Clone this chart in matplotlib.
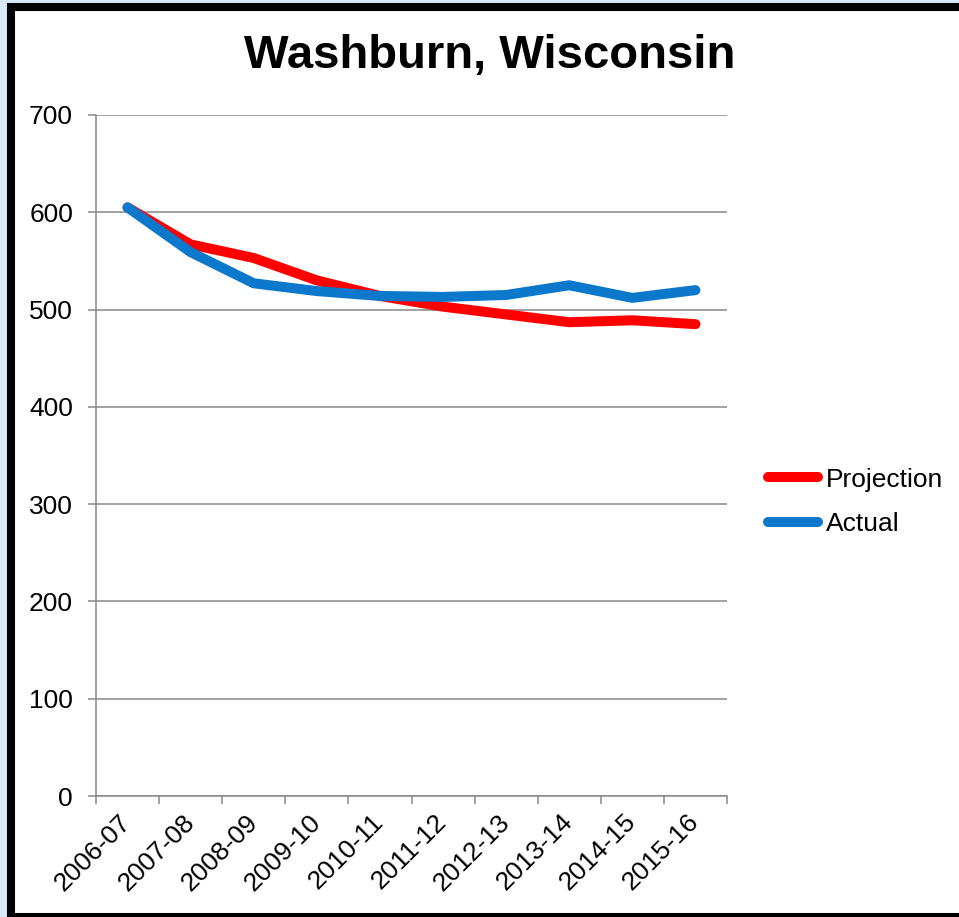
import matplotlib
matplotlib.use('Agg')
import matplotlib.pyplot as plt
from matplotlib.patches import Rectangle
import numpy as np

plt.rcParams['font.family'] = ['Liberation Sans', 'DejaVu Sans']

# data
years = ['2006-07', '2007-08', '2008-09', '2009-10', '2010-11',
         '2011-12', '2012-13', '2013-14', '2014-15', '2015-16']
projection = [605, 567, 553, 530, 514, 503, 495, 487, 489, 485]
actual = [605, 559, 527, 519, 514, 513, 515, 525, 512, 520]

W, H = 959, 917
fig = plt.figure(figsize=(W / 100, H / 100), dpi=100)
fig.patch.set_facecolor('#d8eaf9')

# white panel with thick black frame
frame = Rectangle((11 / W, 0.0), 1.2, 910 / H, transform=fig.transFigure,
                  facecolor='white', edgecolor='black', linewidth=5.8,
                  zorder=-10)
fig.patches.append(frame)

ax = fig.add_axes([96 / W, (H - 796) / H, (727 - 96) / W, (796 - 115) / H])
ax.set_facecolor('none')

x = np.arange(len(years))
ax.plot(x, projection, color='#ff0000', lw=7.2, solid_capstyle='round',
        solid_joinstyle='round', label='Projection', zorder=3)
ax.plot(x, actual, color='#0b78cc', lw=7.2, solid_capstyle='round',
        solid_joinstyle='round', label='Actual', zorder=4)

ax.set_xlim(-0.5, len(years) - 0.5)
ax.set_ylim(0, 700)
ax.set_yticks(range(0, 701, 100))
ax.yaxis.grid(True, color='#888888', lw=1.1)
ax.set_axisbelow(True)

# tick marks at category boundaries, labels at centers
ax.set_xticks(np.arange(-0.5, len(years), 1.0))
ax.set_xticklabels([])
ax.set_xticks(x, minor=True)
ax.set_xticklabels(years, minor=True, rotation=45, ha='right',
                   va='center', rotation_mode='anchor', fontsize=19)
ax.tick_params(axis='x', which='minor', length=0, pad=16)
ax.tick_params(axis='x', which='major', length=5.5, width=1.1, color='#888888')
ax.tick_params(axis='y', length=5.5, width=1.1, color='#888888', pad=11,
               labelsize=19)

for side in ['top', 'right']:
    ax.spines[side].set_visible(False)
for side in ['left', 'bottom']:
    ax.spines[side].set_color('#888888')
    ax.spines[side].set_linewidth(1.1)

fig.text(490 / W, 1 - 56 / H, 'Washburn, Wisconsin', fontsize=34,
         fontweight='bold', ha='center', va='center')

leg = fig.legend(loc='center left', bbox_to_anchor=(744 / W, 1 - 502 / H),
                 frameon=False, fontsize=19, handlelength=1.9,
                 handletextpad=0.3, labelspacing=0.78)

fig.savefig('out.png', dpi=100, facecolor=fig.get_facecolor())
